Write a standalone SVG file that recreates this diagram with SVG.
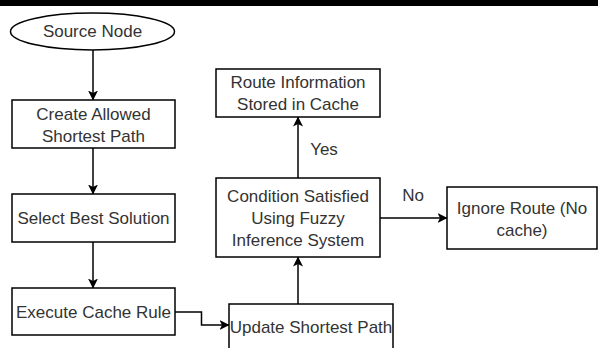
<svg xmlns="http://www.w3.org/2000/svg" width="598" height="348" viewBox="0 0 598 348">
  <defs>
    <marker id="arrow" viewBox="0 0 10 10" refX="9.5" refY="5" markerWidth="10" markerHeight="10" markerUnits="userSpaceOnUse" orient="auto">
      <path d="M0,0 L10,5 L0,10 L2.5,5 Z" fill="#000"/>
    </marker>
  </defs>
  <style>
    .box { fill: #fff; stroke: #000; stroke-width: 1.5; }
    .lbl { font-family: "Liberation Sans", Arial, sans-serif; font-size: 17px; fill: #333; text-anchor: middle; dominant-baseline: central; }
    .edge { fill: none; stroke: #000; stroke-width: 1.5; marker-end: url(#arrow); }
  </style>

  <rect width="598" height="348" fill="#fff"/>
  <!-- header rule -->
  <rect x="0" y="0" width="598" height="6" fill="#000"/>

  <g id="connectors">
    <path class="edge" d="M93,50 V100"/>
    <path class="edge" d="M93,148 V194"/>
    <path class="edge" d="M93,242 V288"/>
    <path class="edge" d="M175,312 H201.5 V325 H229"/>
    <path class="edge" d="M298,304 V257"/>
    <path class="edge" d="M298,178 V117"/>
    <path class="edge" d="M380,218 H447"/>
    <text class="lbl" x="324" y="149">Yes</text>
    <text class="lbl" x="413" y="195">No</text>
  </g>

  <g id="source-node">
    <ellipse class="box" cx="92.5" cy="31.5" rx="82" ry="18.5"/>
    <text class="lbl" x="92.5" y="31">Source Node</text>
  </g>

  <g id="create-path">
    <rect class="box" x="12" y="100" width="163" height="48"/>
    <text class="lbl" x="93.5" y="114">Create Allowed</text>
    <text class="lbl" x="93.5" y="136">Shortest Path</text>
  </g>

  <g id="select-best">
    <rect class="box" x="12" y="194" width="163" height="48"/>
    <text class="lbl" x="93.5" y="218">Select Best Solution</text>
  </g>

  <g id="execute-rule">
    <rect class="box" x="12" y="288" width="163" height="47"/>
    <text class="lbl" x="93.5" y="312">Execute Cache Rule</text>
  </g>

  <g id="update-path">
    <rect class="box" x="229" y="304" width="164" height="60"/>
    <text class="lbl" x="311" y="327">Update Shortest Path</text>
  </g>

  <g id="condition">
    <rect class="box" x="216" y="178" width="164" height="79"/>
    <text class="lbl" x="298" y="196">Condition Satisfied</text>
    <text class="lbl" x="298" y="218">Using Fuzzy</text>
    <text class="lbl" x="298" y="240">Inference System</text>
  </g>

  <g id="route-stored">
    <rect class="box" x="216" y="69" width="164" height="48"/>
    <text class="lbl" x="298" y="82">Route Information</text>
    <text class="lbl" x="298" y="104">Stored in Cache</text>
  </g>

  <g id="ignore-route">
    <rect class="box" x="447" y="187" width="150" height="62"/>
    <text class="lbl" x="522" y="208">Ignore Route (No</text>
    <text class="lbl" x="522" y="230">cache)</text>
  </g>
</svg>
